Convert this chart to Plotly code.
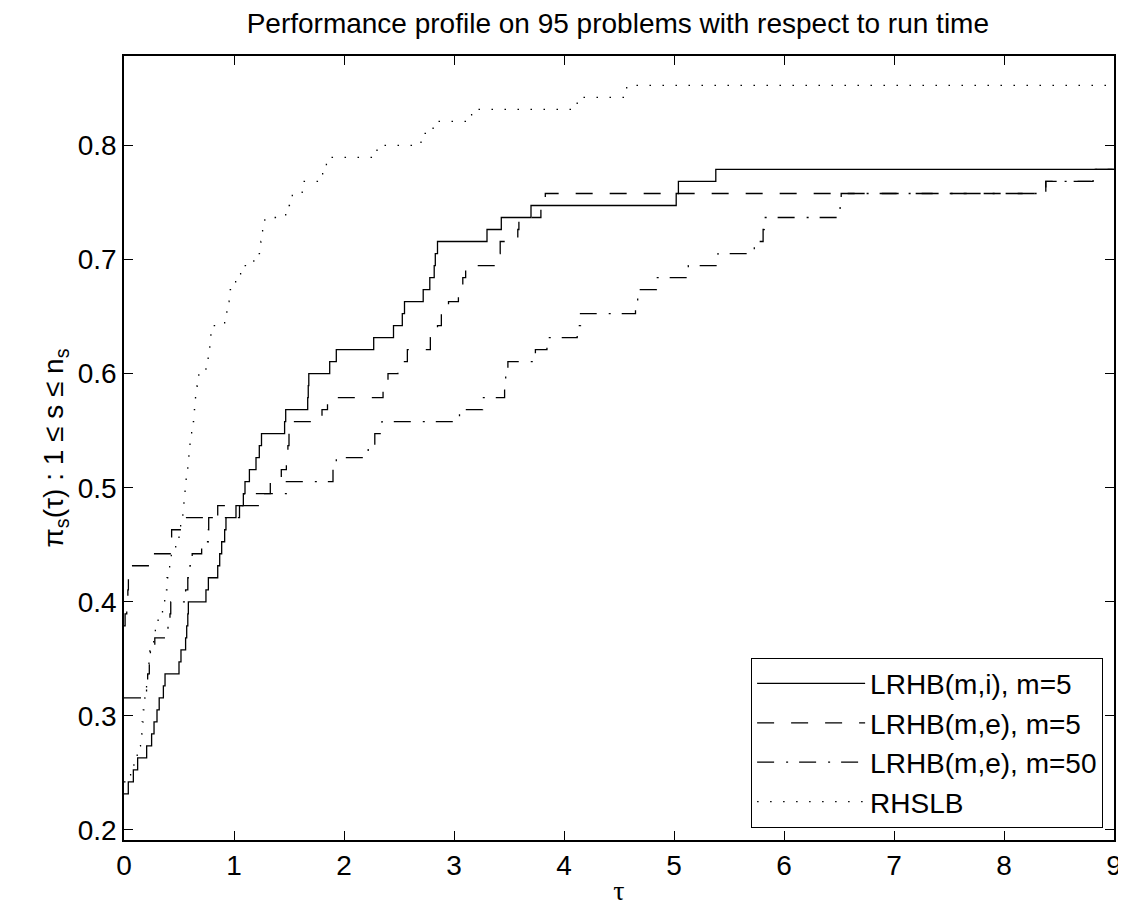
import plotly.graph_objects as go

N_PROBLEMS = 95

# LRHB(m,i), m=5  (solid)
solid_tau = [0, 0.039, 0.085, 0.124, 0.206, 0.251, 0.273, 0.30, 0.32, 0.358,
             0.373, 0.50, 0.518, 0.56, 0.57, 0.58, 0.585, 0.745, 0.767, 0.852,
             0.87, 0.888, 0.915, 0.927, 1.018, 1.085, 1.10, 1.14, 1.20, 1.23,
             1.25, 1.46, 1.47, 1.67, 1.675, 1.68, 1.87, 1.93, 2.27, 2.45,
             2.53, 2.55, 2.72, 2.78, 2.82, 2.83, 2.85, 3.30, 3.43, 3.70,
             5.02, 5.04, 5.38]
solid_cnt = [22, 23, 24, 25, 26, 27, 28, 29, 30, 31,
             32, 33, 34, 35, 36, 37, 38, 39, 40, 41,
             42, 43, 44, 45, 46, 47, 48, 49, 50, 51,
             52, 53, 54, 55, 56, 57, 58, 59, 60, 61,
             62, 63, 64, 65, 66, 67, 68, 69, 70, 71,
             72, 73, 74]

# LRHB(m,e), m=5  (dashed)
dash_tau = [0, 0.01, 0.025, 0.035, 0.04, 0.065, 0.236, 0.42, 0.433, 0.539,
            0.852, 1.27, 1.33, 1.43, 1.476, 1.49, 1.50, 1.55, 1.80, 1.85,
            2.355, 2.40, 2.49, 2.576, 2.785, 2.85, 2.885, 2.95, 3.04, 3.08,
            3.106, 3.395, 3.42, 3.58, 3.59, 3.79, 3.83, 8.38, 8.81]
dash_cnt = [36, 37, 38, 39, 40, 41, 42, 43, 44, 45,
            46, 47, 48, 49, 50, 51, 52, 53, 54, 55,
            56, 57, 58, 59, 60, 61, 62, 63, 64, 65,
            66, 67, 68, 69, 70, 71, 72, 73, 74]

# LRHB(m,e), m=50  (dash-dot)
dd_tau = [0, 0.205, 0.215, 0.23, 0.24, 0.28, 0.40, 0.418, 0.425, 0.56,
          0.58, 0.60, 0.62, 0.706, 0.767, 0.77, 1.05, 1.09, 1.476, 1.90,
          1.93, 2.22, 2.28, 2.345, 3.05, 3.26, 3.46, 3.47, 3.49, 3.74,
          3.845, 4.12, 4.15, 4.65, 4.67, 4.84, 5.13, 5.40, 5.73, 5.81,
          5.82, 6.51, 6.52, 8.38, 8.81]
dd_cnt = [30, 31, 32, 33, 34, 35, 36, 37, 38, 39,
          40, 41, 42, 43, 44, 45, 46, 47, 48, 49,
          50, 51, 52, 53, 54, 55, 56, 57, 58, 59,
          60, 61, 62, 63, 64, 65, 66, 67, 68, 69,
          70, 71, 72, 73, 74]

# RHSLB  (dotted)
dot_tau = [0, 0.06, 0.09, 0.12, 0.15, 0.165, 0.175, 0.19, 0.205, 0.215,
           0.227, 0.235, 0.27, 0.285, 0.31, 0.35, 0.37, 0.39, 0.415, 0.43,
           0.47, 0.50, 0.515, 0.535, 0.545, 0.555, 0.565, 0.58, 0.59, 0.60,
           0.615, 0.64, 0.65, 0.665, 0.68, 0.745, 0.765, 0.78, 0.79, 0.915,
           0.935, 0.955, 1.015, 1.06, 1.18, 1.245, 1.26, 1.28, 1.47, 1.53,
           1.62, 1.806, 1.84, 2.30, 2.70, 2.81, 3.16, 4.12, 4.57]
dot_cnt = [23, 24, 25, 26, 27, 28, 29, 30, 31, 32,
           33, 34, 35, 36, 37, 38, 39, 40, 41, 42,
           43, 44, 45, 46, 47, 48, 49, 50, 51, 52,
           53, 54, 55, 56, 57, 58, 59, 60, 61, 62,
           63, 64, 65, 66, 67, 68, 69, 70, 71, 72,
           73, 74, 75, 76, 77, 78, 79, 80, 81]

TAU_MAX = 9
x_ticks = [0, 1, 2, 3, 4, 5, 6, 7, 8, 9]
y_ticks = [0.2, 0.3, 0.4, 0.5, 0.6, 0.7, 0.8]
y_tick_text = ["0.2", "0.3", "0.4", "0.5", "0.6", "0.7", "0.8"]

series = [
    ("LRHB(m,i), m=5", solid_tau, solid_cnt, "solid"),
    ("LRHB(m,e), m=5", dash_tau, dash_cnt, "17px,17px"),
    ("LRHB(m,e), m=50", dd_tau, dd_cnt, "17px,12px,2px,11px"),
    ("RHSLB", dot_tau, dot_cnt, "1.5px,11.5px"),
]

SANS = "Liberation Sans, Arial, Helvetica, sans-serif"
FS = 28

fig = go.Figure()
for name, tau, cnt, dash in series:
    xs = list(tau) + [TAU_MAX]
    ys = [c / N_PROBLEMS for c in cnt] + [cnt[-1] / N_PROBLEMS]
    fig.add_trace(go.Scatter(
        x=xs, y=ys, mode="lines", name=name,
        line=dict(color="black", width=1.3, dash=dash, shape="hv"),
    ))

axis_common = dict(
    showline=True, linecolor="black", linewidth=1.5, mirror="ticks",
    ticks="inside", ticklen=9, tickwidth=1, tickcolor="black",
    showgrid=False, zeroline=False,
    tickfont=dict(family=SANS, size=FS, color="black"),
)

fig.update_layout(
    width=1126, height=905,
    paper_bgcolor="white", plot_bgcolor="white",
    margin=dict(l=116, r=20, t=48, b=73),
    title=dict(text="Performance profile on 95 problems with respect to run time",
               x=0.5416, xanchor="center", y=0.9936, yanchor="top",
               font=dict(family=SANS, size=FS, color="black")),
    xaxis=dict(range=[0, TAU_MAX], tickvals=x_ticks,
               title=dict(text="τ", font=dict(family="Liberation Serif, Times New Roman, serif",
                                               size=FS, color="black"), standoff=0),
               **axis_common),
    yaxis=dict(range=[0.1912, 0.8784], tickvals=y_ticks, ticktext=y_tick_text,
               title=dict(text="π<sub>s</sub>(τ) : 1 ≤ s ≤ n<sub>s</sub>",
                          font=dict(family=SANS, size=FS, color="black"), standoff=6),
               **axis_common),
    legend=dict(x=0.989, y=0.0157, xanchor="right", yanchor="bottom",
                bgcolor="white", bordercolor="black", borderwidth=1,
                font=dict(family=SANS, size=FS, color="black"),
                itemwidth=108, tracegroupgap=0),
    showlegend=True,
)

fig.write_html("out.html")
